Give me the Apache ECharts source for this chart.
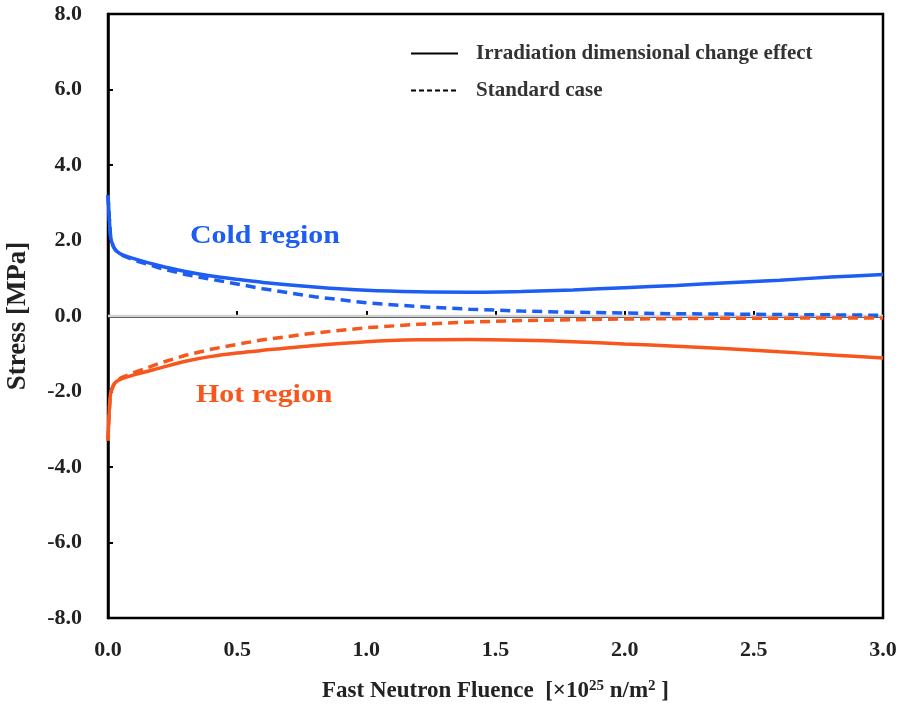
<!DOCTYPE html>
<html>
<head>
<meta charset="utf-8">
<script src="https://cdn.jsdelivr.net/npm/echarts@6/dist/echarts.min.js"></script>
<style>html,body{margin:0;padding:0;background:#fff;}#c{width:901px;height:710px;}</style>
</head>
<body>
<div id="c"></div>
<script>
var fluence = [0, 0.005, 0.01, 0.02, 0.03, 0.05, 0.1, 0.2, 0.3, 0.4, 0.5, 0.6, 0.8, 1.0, 1.2, 1.4, 1.6, 1.8, 2.0, 2.2, 2.4, 2.6, 2.8, 3.0];
var coldIrr = [3.2, 2.6, 2.1, 1.85, 1.74, 1.64, 1.52, 1.33, 1.18, 1.06, 0.97, 0.89, 0.77, 0.68, 0.64, 0.63, 0.65, 0.69, 0.75, 0.81, 0.88, 0.95, 1.03, 1.1];
var coldStd = [3.2, 2.6, 2.1, 1.85, 1.74, 1.62, 1.48, 1.27, 1.1, 0.97, 0.85, 0.72, 0.51, 0.35, 0.25, 0.18, 0.13, 0.1, 0.08, 0.06, 0.05, 0.04, 0.03, 0.02];
var hotIrr = [-3.3, -2.5, -2.05, -1.85, -1.75, -1.67, -1.56, -1.38, -1.2, -1.07, -0.98, -0.91, -0.78, -0.68, -0.63, -0.62, -0.64, -0.68, -0.74, -0.8, -0.87, -0.95, -1.03, -1.11];
var hotStd = [-3.3, -2.5, -2.05, -1.85, -1.74, -1.64, -1.5, -1.25, -1.04, -0.88, -0.75, -0.63, -0.45, -0.31, -0.22, -0.16, -0.12, -0.1, -0.08, -0.07, -0.06, -0.06, -0.05, -0.05];
var zeroLine = [[0, 0], [3, 0]];
var legendNames = ['Irradiation dimensional change effect', 'Standard case'];
var xTicks = {min: 0, max: 3, interval: 0.5};
var yTicks = {min: -8, max: 8, interval: 2};
var regionLabels = ['Cold region', 'Hot region'];

function pairs(xs, ys) { return xs.map(function (x, i) { return [x, ys[i]]; }); }

var FONT = '"Liberation Serif", "Times New Roman", serif';
var BLUE = '#1d5df2';
var ORANGE = '#f7561c';

var chart = echarts.init(document.getElementById('c'));
chart.setOption({
  backgroundColor: '#ffffff',
  animation: false,
  grid: {left: 108, right: 18, top: 14, bottom: 92, containLabel: false, outerBoundsMode: 'none', show: true, borderColor: '#000', borderWidth: 2.5, backgroundColor: 'transparent'},
  legend: {
    orient: 'vertical', left: 405, top: 38, itemWidth: 47, itemHeight: 14, itemGap: 16,
    data: legendNames,
    itemStyle: {opacity: 0},
    textStyle: {fontFamily: FONT, fontWeight: 'bold', fontSize: 21, color: '#333', padding: [0, 0, 0, 13]}
  },
  xAxis: {
    type: 'value', min: xTicks.min, max: xTicks.max, interval: xTicks.interval,
    axisLine: {show: true, lineStyle: {color: '#000', width: 2.5}},
    axisTick: {show: true, inside: true, length: 5, lineStyle: {color: '#000', width: 2}},
    splitLine: {show: false},
    axisLabel: {margin: 21, fontFamily: FONT, fontWeight: 'bold', fontSize: 22, color: '#222', formatter: function (v) { return v.toFixed(1); }},
    name: '{a|Fast Neutron Fluence  [\u00d710}{s|25}{a| n/m}{s|2}{a| ]}',
    nameLocation: 'middle', nameGap: 61,
    nameTextStyle: {rich: {
      a: {fontFamily: FONT, fontWeight: 'bold', fontSize: 23, color: '#222'},
      s: {fontFamily: FONT, fontWeight: 'bold', fontSize: 15, color: '#222', verticalAlign: 'top', padding: [0, 0, 9, 0]}
    }}
  },
  yAxis: {
    type: 'value', min: yTicks.min, max: yTicks.max, interval: yTicks.interval,
    axisLine: {show: true, onZero: false, lineStyle: {color: '#000', width: 2.5}},
    axisTick: {show: true, inside: true, length: 5, lineStyle: {color: '#000', width: 2}},
    splitLine: {show: false},
    axisLabel: {margin: 26, fontFamily: FONT, fontWeight: 'bold', fontSize: 22, color: '#222', formatter: function (v) { return v.toFixed(1); }},
    name: 'Stress [MPa]', nameLocation: 'middle', nameGap: 76,
    nameTextStyle: {fontFamily: FONT, fontWeight: 'bold', fontSize: 27, color: '#222'}
  },
  series: [
    {type: 'line', name: 'zero', data: zeroLine, symbol: 'none', silent: true, lineStyle: {color: '#d2d2d2', width: 2.5}, z: 1},
    {type: 'line', name: legendNames[0], data: [], symbol: 'none', lineStyle: {color: '#000', width: 3}, itemStyle: {color: '#000'}},
    {type: 'line', name: legendNames[1], data: [], symbol: 'none', lineStyle: {color: '#000', width: 2, type: [5, 3]}, itemStyle: {color: '#000'}},
    {type: 'line', name: 'coldStd', data: pairs(fluence, coldStd), symbol: 'none', lineStyle: {color: BLUE, width: 3.5, type: [10, 6]}},
    {type: 'line', name: 'hotStd', data: pairs(fluence, hotStd), symbol: 'none', lineStyle: {color: ORANGE, width: 3.5, type: [10, 6]}},
    {type: 'line', name: 'coldIrr', data: pairs(fluence, coldIrr), symbol: 'none', smooth: 0.3, lineStyle: {color: BLUE, width: 3.5}},
    {type: 'line', name: 'hotIrr', data: pairs(fluence, hotIrr), symbol: 'none', smooth: 0.3, lineStyle: {color: ORANGE, width: 3.5}}
  ],
  graphic: [
    {type: 'text', x: 190, y: 223, scaleX: 1.15, style: {text: regionLabels[0], fill: BLUE, font: 'bold 26px ' + FONT}},
    {type: 'text', x: 196, y: 382, scaleX: 1.15, style: {text: regionLabels[1], fill: ORANGE, font: 'bold 26px ' + FONT}}
  ]
});
</script>
</body>
</html>
